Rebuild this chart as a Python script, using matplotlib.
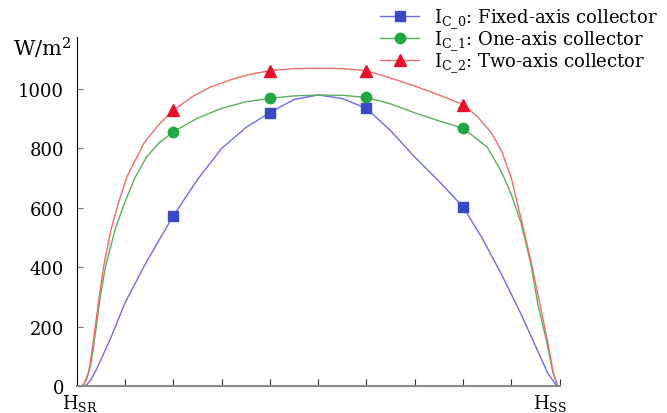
import matplotlib.pyplot as plt

plt.rcParams["font.family"] = "DejaVu Serif"
plt.rcParams["mathtext.fontset"] = "dejavuserif"

# values (x: hours after sunrise on a 0..10 scale)
fixed_x = [0.18, 0.3, 0.42, 0.7, 1.0, 1.4, 1.7, 2.0, 2.5, 3.0, 3.5, 4.0, 4.5,
           5.0, 5.5, 6.0, 6.5, 7.0, 7.5, 8.0, 8.4, 8.8, 9.2, 9.5, 9.75, 9.94]
fixed_y = [0, 22, 60, 160, 280, 405, 490, 573, 695, 800, 870, 921, 965,
           980, 968, 935, 860, 771, 690, 603, 497, 375, 243, 135, 45, 0]

one_x = [0.14, 0.29, 0.39, 0.49, 0.6, 0.8, 1.0, 1.2, 1.45, 1.7, 2.0, 2.5, 3.0,
         3.5, 4.0, 4.5, 5.0, 5.5, 6.0, 6.5, 7.0, 7.5, 8.0, 8.5, 8.8, 9.0, 9.2,
         9.4, 9.55, 9.72, 9.86, 9.96]
one_y = [0, 68, 181, 304, 405, 530, 620, 700, 772, 818, 856, 902, 935,
         957, 969, 977, 980, 979, 972, 950, 920, 893, 868, 805, 720, 645, 550,
         415, 275, 158, 46, 0]

two_x = [0.11, 0.2, 0.25, 0.35, 0.46, 0.56, 0.7, 0.85, 1.04, 1.4, 1.7, 2.0, 2.4,
         2.76, 3.2, 3.6, 4.0, 4.5, 5.0, 5.5, 6.0, 6.5, 7.0, 7.5, 8.0, 8.3, 8.6,
         8.8, 9.0, 9.2, 9.4, 9.6, 9.75, 9.87, 9.96]
two_y = [0, 20, 46, 158, 293, 405, 520, 610, 705, 820, 880, 928, 975,
         1006, 1032, 1050, 1062, 1069, 1070, 1069, 1062, 1037, 1010, 980, 948,
         907, 850, 790, 700, 565, 425, 270, 150, 46, 0]

marker_hours = [2.0, 4.0, 6.0, 8.0]
labels = [r"$\mathrm{I_{C\_0}}$: Fixed-axis collector",
          r"$\mathrm{I_{C\_1}}$: One-axis collector",
          r"$\mathrm{I_{C\_2}}$: Two-axis collector"]

fig = plt.figure(figsize=(6.67, 4.14), dpi=100)
ax = fig.add_axes([0.115, 0.065, 0.724, 0.843])

series = [
    (fixed_x, fixed_y, "#6b6bf0", "#3b48c8", "s", 7),
    (one_x, one_y, "#5aae5a", "#1fa844", "o", 7.5),
    (two_x, two_y, "#f26a6a", "#e8102a", "^", 9),
]
for (xs, ys, lc, mc, mk, ms), lab in zip(series, labels):
    idx = [xs.index(h) for h in marker_hours]
    ax.plot(xs, ys, color=lc, lw=1.0, marker=mk, markevery=idx, ms=ms,
            mfc=mc, mec=mc, label=lab)

ax.set_xlim(0, 10)
ax.set_ylim(0, 1175)
ax.set_yticks([0, 200, 400, 600, 800, 1000])
ax.set_xticks(range(1, 11))
ax.set_xticklabels([])
ax.tick_params(axis="y", direction="in", length=4, color="#777777",
               labelsize=13, pad=9)
ax.tick_params(axis="x", direction="in", length=5, color="#333333")

for s in ["top", "right"]:
    ax.spines[s].set_visible(False)
ax.spines["left"].set_color("black")
ax.spines["bottom"].set_color("#888888")
ax.spines["bottom"].set_linewidth(1.5)

ax.text(0.08, -0.062, r"$\mathrm{H_{SR}}$", transform=ax.get_xaxis_transform(),
        ha="center", va="baseline", fontsize=13)
ax.text(9.8, -0.062, r"$\mathrm{H_{SS}}$", transform=ax.get_xaxis_transform(),
        ha="center", va="baseline", fontsize=13)
fig.text(0.107, 0.884, r"W/m$^2$", ha="right", va="center", fontsize=15)

fig.legend(loc="upper left", bbox_to_anchor=(0.545, 1.02), frameon=False,
           fontsize=13, handlelength=2.2, labelspacing=-0.08, handletextpad=0.8)

fig.savefig("out.png", dpi=100)
